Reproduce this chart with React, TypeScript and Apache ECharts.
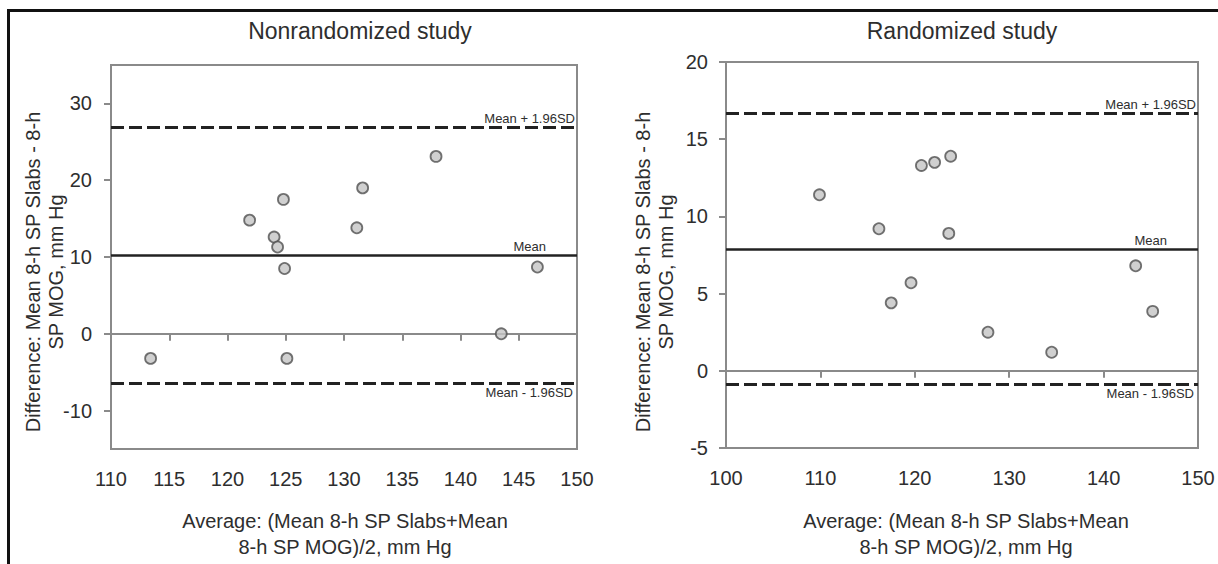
import React, { useEffect, useRef } from "react";
import * as echarts from "echarts";

// Nonrandomized study (left panel)
const nonRandAvg = [113.4, 121.9, 124.0, 124.3, 124.8, 124.9, 125.1, 131.1, 131.6, 137.9, 143.5, 146.6];
const nonRandDiff = [-3.2, 14.8, 12.6, 11.3, 17.5, 8.5, -3.2, 13.8, 19.0, 23.1, 0.0, 8.7];
const nonRandLines = { upper: 26.9, mean: 10.2, lower: -6.5 };
const nonRandYTicks = [-10, 0, 10, 20, 30];

// Randomized study (right panel)
const randAvg = [109.9, 116.2, 117.5, 119.6, 120.7, 122.1, 123.6, 123.8, 127.75, 134.5, 143.4, 145.2];
const randDiff = [11.4, 9.2, 4.4, 5.7, 13.3, 13.5, 8.9, 13.9, 2.5, 1.2, 6.8, 3.85];
const randLines = { upper: 16.7, mean: 7.87, lower: -0.89 };

const panelTitles = ["Nonrandomized study", "Randomized study"];
const yTitleLines = ["Difference: Mean 8-h SP Slabs - 8-h", "SP MOG, mm Hg"];
const xTitleLines = ["Average: (Mean 8-h SP Slabs+Mean", "8-h SP MOG)/2, mm Hg"];
const lineLabels = { upper: "Mean + 1.96SD", mean: "Mean", lower: "Mean - 1.96SD" };

const FONT = "'Liberation Sans', Arial, sans-serif";
const TXT = "#2e2e2e";
const FRAME = "#8a8a8a";

function markLines(l: { upper: number; mean: number; lower: number }) {
  const lab = (text: string, pos: string, dist: number[]) => ({
    show: true,
    formatter: text,
    position: pos,
    distance: dist,
    fontFamily: FONT,
    fontSize: 13,
    color: TXT,
  });
  return {
    silent: true,
    symbol: "none",
    animation: false,
    data: [
      {
        yAxis: l.upper,
        lineStyle: { type: [13, 5], width: 3, color: "#222" },
        label: lab(lineLabels.upper, "insideEndTop", [2, 2]),
      },
      {
        yAxis: l.mean,
        lineStyle: { type: "solid", width: 2.5, color: "#222" },
        label: lab(lineLabels.mean, "insideEndTop", [31, 2]),
      },
      {
        yAxis: l.lower,
        lineStyle: { type: [13, 5], width: 3, color: "#222" },
        label: lab(lineLabels.lower, "insideEndBottom", [4, 2]),
      },
    ],
  };
}

function axisCommon() {
  return {
    axisLine: { show: true, lineStyle: { color: FRAME, width: 2 } },
    axisTick: { show: true, inside: false, length: 7, lineStyle: { color: FRAME, width: 2 } },
    splitLine: { show: false },
  };
}

export default function App() {
  const ref = useRef<HTMLDivElement>(null);
  useEffect(() => {
    if (!ref.current) return;
    const chart = echarts.init(ref.current, undefined, { renderer: "svg" });
    const textStyle = (size: number) => ({ fontFamily: FONT, fontSize: size, fill: TXT });
    chart.setOption({
      animation: false,
      backgroundColor: "#ffffff",
      grid: [
        { left: 111, top: 65, width: 466, height: 384, show: true, borderColor: FRAME, borderWidth: 2, backgroundColor: "transparent" },
        { left: 726, top: 62, width: 472, height: 386, show: true, borderColor: FRAME, borderWidth: 2, backgroundColor: "transparent" },
      ],
      xAxis: [
        {
          type: "value", gridIndex: 0, min: 110, max: 150, interval: 5,
          ...axisCommon(),
          axisLabel: { margin: 20, fontFamily: FONT, fontSize: 20, color: TXT },
        },
        {
          type: "value", gridIndex: 1, min: 100, max: 150, interval: 10,
          ...axisCommon(),
          axisLabel: { margin: 20, fontFamily: FONT, fontSize: 20, color: TXT },
        },
      ],
      yAxis: [
        {
          type: "value", gridIndex: 0, min: -15, max: 35, interval: 5,
          ...axisCommon(),
          axisTick: { show: true, inside: false, length: 7, lineStyle: { color: FRAME, width: 2 }, customValues: nonRandYTicks },
          axisLabel: { margin: 19, fontFamily: FONT, fontSize: 20, color: TXT, customValues: nonRandYTicks },
        },
        {
          type: "value", gridIndex: 1, min: -5, max: 20, interval: 5,
          ...axisCommon(),
          axisLabel: { margin: 18, fontFamily: FONT, fontSize: 20, color: TXT },
        },
      ],
      series: [
        {
          type: "scatter", xAxisIndex: 0, yAxisIndex: 0,
          data: nonRandAvg.map((x, i) => [x, nonRandDiff[i]]),
          symbol: "circle", symbolSize: 11,
          itemStyle: { color: "#c4c4c4", borderColor: "#505050", borderWidth: 1.8 },
          markLine: markLines(nonRandLines),
          z: 3,
        },
        {
          type: "scatter", xAxisIndex: 1, yAxisIndex: 1,
          data: randAvg.map((x, i) => [x, randDiff[i]]),
          symbol: "circle", symbolSize: 11,
          itemStyle: { color: "#c4c4c4", borderColor: "#505050", borderWidth: 1.8 },
          markLine: markLines(randLines),
          z: 3,
        },
      ],
      graphic: [
        {
          type: "polyline", silent: true,
          shape: { points: [[8.5, 564], [8.5, 10.5], [1218, 10.5]] },
          style: { stroke: "#111", lineWidth: 3, fill: "none" },
        },
        { type: "text", x: 360, y: 31, style: { ...textStyle(23), text: panelTitles[0], align: "center", verticalAlign: "middle" } },
        { type: "text", x: 962, y: 31, style: { ...textStyle(23), text: panelTitles[1], align: "center", verticalAlign: "middle" } },
        { type: "text", x: 33, y: 272, rotation: Math.PI / 2, style: { ...textStyle(20), text: yTitleLines[0], align: "center", verticalAlign: "middle" } },
        { type: "text", x: 56, y: 272, rotation: Math.PI / 2, style: { ...textStyle(20), text: yTitleLines[1], align: "center", verticalAlign: "middle" } },
        { type: "text", x: 643, y: 272, rotation: Math.PI / 2, style: { ...textStyle(20), text: yTitleLines[0], align: "center", verticalAlign: "middle" } },
        { type: "text", x: 666, y: 272, rotation: Math.PI / 2, style: { ...textStyle(20), text: yTitleLines[1], align: "center", verticalAlign: "middle" } },
        { type: "text", x: 345, y: 521, style: { ...textStyle(20), text: xTitleLines[0], align: "center", verticalAlign: "middle" } },
        { type: "text", x: 345, y: 547, style: { ...textStyle(20), text: xTitleLines[1], align: "center", verticalAlign: "middle" } },
        { type: "text", x: 966, y: 521, style: { ...textStyle(20), text: xTitleLines[0], align: "center", verticalAlign: "middle" } },
        { type: "text", x: 966, y: 547, style: { ...textStyle(20), text: xTitleLines[1], align: "center", verticalAlign: "middle" } },
      ],
    });
    return () => chart.dispose();
  }, []);
  return (
    <div
      ref={ref}
      style={{ position: "absolute", left: 0, top: 0, width: 1218, height: 564, background: "#fff" }}
    />
  );
}
